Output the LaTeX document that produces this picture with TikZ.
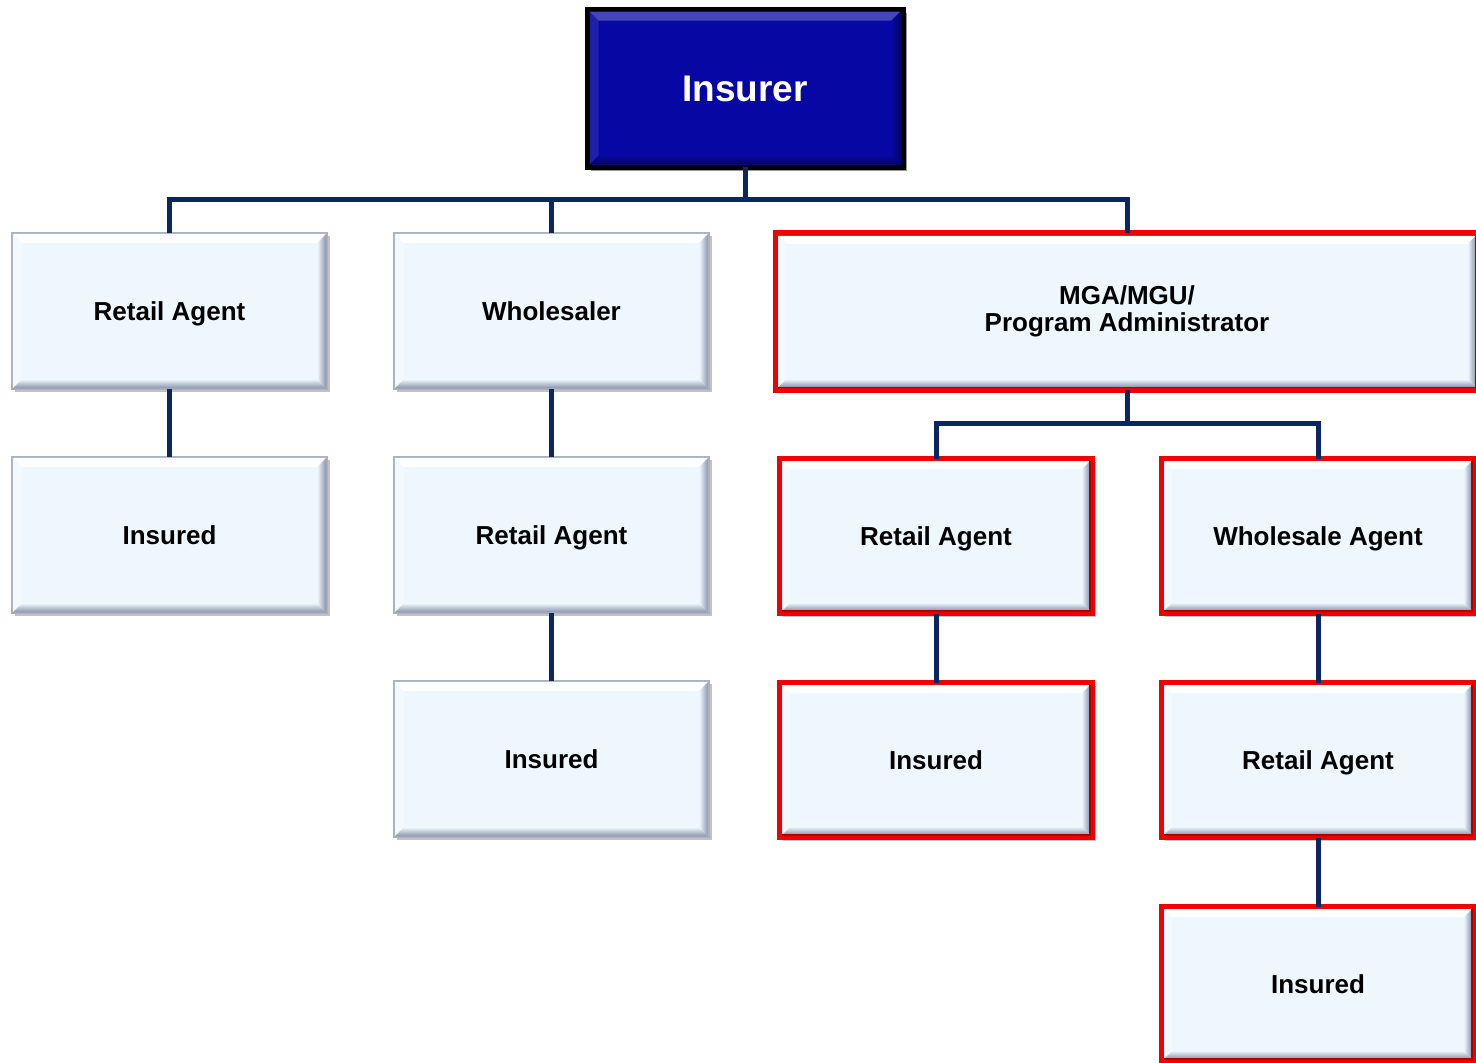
\documentclass[tikz,border=0pt]{standalone}
\usepackage{fontspec}
\setmainfont{Liberation Sans}
\usetikzlibrary{shadows,calc}

\definecolor{boxfill}{HTML}{EEF6FE}
\definecolor{bevdark}{HTML}{8A93AA}
\definecolor{boxedge}{HTML}{A9B2C4}
\definecolor{linkblue}{HTML}{0B2663}
\definecolor{topblue}{HTML}{0707A3}
\definecolor{redline}{HTML}{F00000}
\definecolor{darkred}{HTML}{B00000}

\tikzset{
  x=1pt, y=-1pt,
  base/.style={rectangle, outer sep=0pt, inner sep=0pt, align=center,
    font=\bfseries\fontsize{26}{27}\selectfont, text=black},
  oneline/.style={text height=18.6pt, text depth=0pt},
  lightbox/.style={base, oneline, fill=boxfill, draw=boxedge, line width=1.5pt,
    minimum width=315pt, minimum height=156pt,
    drop shadow={shadow xshift=3pt, shadow yshift=-3pt, opacity=.35, fill=black!70}},
  redbox/.style={base, fill=boxfill, draw=redline, line width=5.5pt,
    minimum width=313pt, minimum height=155pt,
    drop shadow={shadow xshift=3pt, shadow yshift=-3pt, opacity=.3, fill=black!70}},
  topbox/.style={base, fill=topblue, draw=black, line width=5pt, text=white,
    minimum width=316pt, minimum height=158pt,
    font=\bfseries\fontsize{37}{40}\selectfont, text height=26.5pt, text depth=0pt,
    drop shadow={shadow xshift=4pt, shadow yshift=-4pt, opacity=.4, fill=black}},
  link/.style={draw=linkblue, line width=5pt}
}

% Bevelled edges inside a box: #1 node, #2 inset, #3 bevel width (plain numbers),
% #4 fill colour, #5 dark colour, #6 highlight opacity
\newcommand{\bevelize}[6]{%
  \path (#1.north west) ++(#2,#2) coordinate (#1-A)
        (#1.north east) ++(-#2,#2) coordinate (#1-B)
        (#1.south east) ++(-#2,-#2) coordinate (#1-C)
        (#1.south west) ++(#2,-#2) coordinate (#1-D)
        (#1-A) ++(#3,#3) coordinate (#1-a)
        (#1-B) ++(-#3,#3) coordinate (#1-b)
        (#1-C) ++(-#3,-#3) coordinate (#1-c)
        (#1-D) ++(#3,-#3) coordinate (#1-d);
  \fill[white, opacity=#6] (#1-A) -- (#1-B) -- (#1-b) -- (#1-a) -- cycle;
  \fill[white, opacity=#6*0.4] (#1-A) -- (#1-a) -- (#1-d) -- (#1-D) -- cycle;
  \shade[top color=#4, bottom color=#5] (#1-D) -- (#1-d) -- (#1-c) -- (#1-C) -- cycle;
  \shade[left color=#4, right color=#5] (#1-B) -- (#1-C) -- (#1-c) -- (#1-b) -- cycle;
}

\begin{document}
\begin{tikzpicture}
\useasboundingbox (0,0) rectangle (1476,1063);

\coordinate (j1) at (745,199);
\coordinate (j2) at (1127,423);

% boxes
\node[topbox]   (ins) at (745,88)     {Insurer};
\node[lightbox] (ra1) at (169.5,311)  {Retail Agent};
\node[lightbox] (ws)  at (551.5,311)  {Wholesaler};
\node[redbox, minimum width=703pt, minimum height=157pt] (mga) at (1127,311.5)
  {MGA/MGU/\\Program Administrator};
\node[lightbox] (in1) at (169.5,535)  {Insured};
\node[lightbox] (ra2) at (551.5,535)  {Retail Agent};
\node[lightbox] (in2) at (551.5,759)  {Insured};
\node[redbox, oneline] (ra3) at (936,536)  {Retail Agent};
\node[redbox, oneline] (wa)  at (1318,536) {Wholesale Agent};
\node[redbox, oneline] (in3) at (936,760)  {Insured};
\node[redbox, oneline] (ra4) at (1318,760) {Retail Agent};
\node[redbox, oneline] (in4) at (1318,984) {Insured};

% bevels
\bevelize{ins}{2.5}{9}{topblue}{topblue!55!black}{.25}
\foreach \n in {ra1,ws,in1,ra2,in2}{\bevelize{\n}{0.75}{9}{boxfill}{bevdark}{.9}}
\foreach \n in {mga,ra3,wa,in3,ra4,in4}{\bevelize{\n}{2.75}{8}{boxfill}{bevdark}{.9}}

% darker inner rim of the red frames
\foreach \n in {mga,ra3,wa,in3,ra4,in4}{
  \draw[darkred, line width=1.5pt] (\n-D) -- (\n-C) -- (\n-B);
}

% connectors
\draw[link] (ins.south) -- (j1);
\draw[link] (ra1.north) |- (j1) -| (mga.north);
\draw[link] (ws.north) -- (ws.north |- j1);
\draw[link] (ra1.south) -- (in1.north);
\draw[link] (ws.south) -- (ra2.north);
\draw[link] (ra2.south) -- (in2.north);
\draw[link] (mga.south) -- (j2);
\draw[link] (ra3.north) |- (j2) -| (wa.north);
\draw[link] (ra3.south) -- (in3.north);
\draw[link] (wa.south) -- (ra4.north);
\draw[link] (ra4.south) -- (in4.north);
\end{tikzpicture}
\end{document}
